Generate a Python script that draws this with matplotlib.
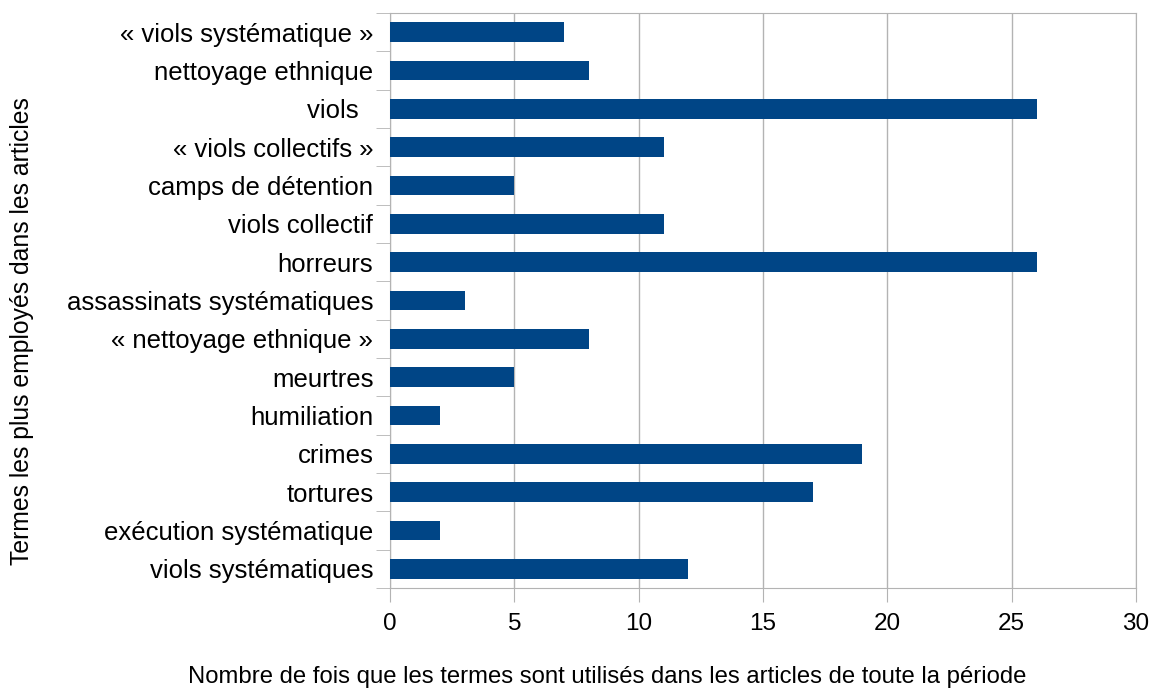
import numpy as np
import matplotlib.pyplot as plt
from matplotlib.ticker import FixedLocator

plt.rcParams['font.family'] = ['Liberation Sans', 'DejaVu Sans']

# categories from top to bottom as in the picture
terms = ['« viols systématique »', 'nettoyage ethnique', 'viols  ', '« viols collectifs »',
         'camps de détention', 'viols collectif', 'horreurs', 'assassinats systématiques',
         '« nettoyage ethnique »', 'meurtres', 'humiliation', 'crimes', 'tortures',
         'exécution systématique', 'viols systématiques']
counts = [7, 8, 26, 11, 5, 11, 26, 3, 8, 5, 2, 19, 17, 2, 12]

fig = plt.figure(figsize=(11.56, 6.91), dpi=100)
ax = fig.add_axes([390 / 1156, 1 - 588 / 691, (1136 - 390) / 1156, (588 - 13) / 691])

ypos = np.arange(len(terms))[::-1]
ax.barh(ypos, counts, height=0.52, color='#004586', zorder=3)

ax.set_xlim(0, 30)
ax.set_ylim(-0.5, len(terms) - 0.5)
ax.set_xticks(np.arange(0, 31, 5))
ax.set_yticks(ypos)
ax.set_yticklabels(terms, fontsize=18.5)
ax.yaxis.set_minor_locator(FixedLocator(np.arange(-0.5, len(terms), 1)))
ax.tick_params(axis='y', which='major', length=0, pad=12)
ax.tick_params(axis='y', which='minor', length=10, color='#b3b3b3')
ax.tick_params(axis='x', length=10, color='#b3b3b3', labelsize=17.5, pad=8)
ax.grid(True, axis='x', color='#b3b3b3', linewidth=1, zorder=0)
for s in ax.spines.values():
    s.set_color('#b3b3b3')

fig.text(607 / 1156, 1 - 677 / 691,
         'Nombre de fois que les termes sont utilisés dans les articles de toute la période',
         fontsize=17.2, ha='center', va='center')
fig.text(22 / 1156, 1 - 331 / 691, 'Termes les plus employés dans les articles',
         fontsize=17.8, ha='center', va='center', rotation=90)

plt.savefig('out.png', dpi=100)
